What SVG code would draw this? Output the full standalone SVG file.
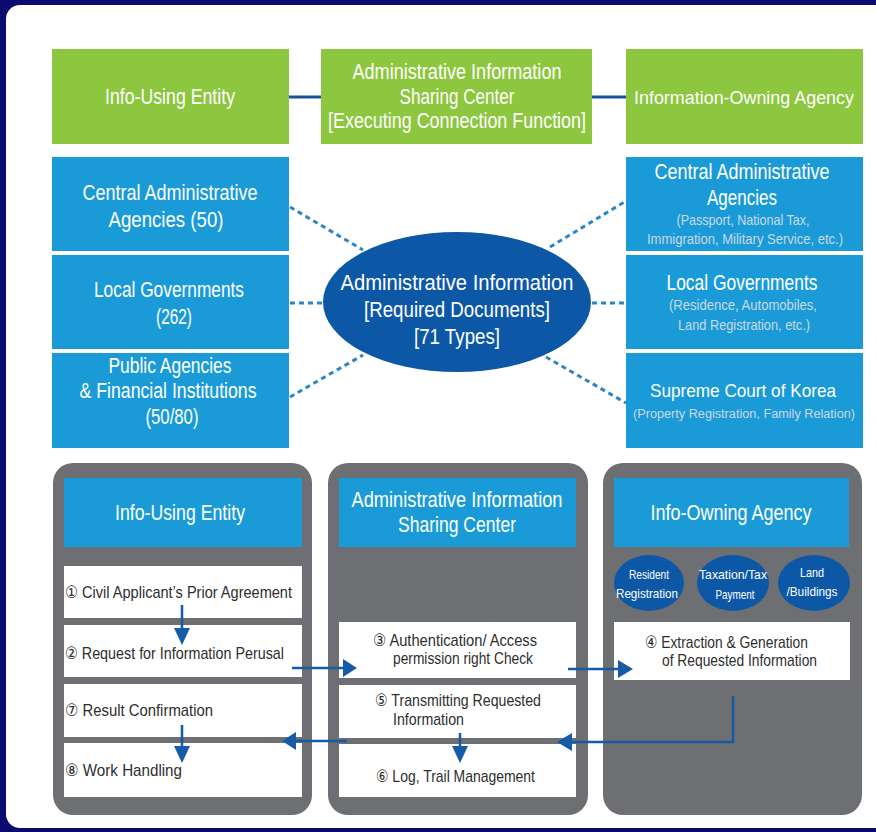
<svg xmlns="http://www.w3.org/2000/svg" width="876" height="832" viewBox="0 0 876 832">
<defs>
<style>
text{font-family:"Liberation Sans","DejaVu Sans",sans-serif;}
.w{fill:#ffffff;text-anchor:middle;}
.h{font-size:21.5px;}
.s{font-size:15px;fill:#cad9e6;text-anchor:middle;}
.d{font-size:17px;fill:#2e2e2e;}
.e{font-size:13px;fill:#ffffff;text-anchor:middle;}
.green{fill:#8dc63f;}
.blue{fill:#1a9bd7;}
.panel{fill:#6d6f72;}
.card{fill:#ffffff;}
.dot{stroke:#2b86c5;stroke-width:3;stroke-dasharray:5 4;fill:none;}
.arr{stroke:#165ba8;stroke-width:2.5;fill:none;}
.ah{fill:#165ba8;}
</style>
</defs>
<rect x="0" y="0" width="876" height="832" fill="#0b0a6e"/>
<rect x="6" y="5" width="900" height="823" rx="14" fill="#ffffff"/>

<g id="connectors">
<line x1="289" y1="97" x2="321" y2="97" stroke="#1a4f9c" stroke-width="3"/>
<line x1="592" y1="97" x2="626" y2="97" stroke="#1a4f9c" stroke-width="3"/>
<line class="dot" x1="290" y1="207" x2="363" y2="250"/>
<line class="dot" x1="290" y1="303" x2="323" y2="303"/>
<line class="dot" x1="290" y1="397" x2="363" y2="355"/>
<line class="dot" x1="550" y1="247" x2="626" y2="201"/>
<line class="dot" x1="592" y1="303" x2="626" y2="303"/>
<line class="dot" x1="546" y1="357" x2="626" y2="403"/>
</g>

<g id="g-using">
<rect class="green" x="52" y="49" width="237" height="95"/>
<text class="w h" x="170" y="104" textLength="130" lengthAdjust="spacingAndGlyphs">Info-Using Entity</text>
</g>
<g id="g-center">
<rect class="green" x="321" y="49" width="271" height="95"/>
<text class="w h" x="457" y="79" textLength="209" lengthAdjust="spacingAndGlyphs">Administrative Information</text>
<text class="w h" x="457" y="104" textLength="115" lengthAdjust="spacingAndGlyphs">Sharing Center</text>
<text class="w h" x="457" y="128" textLength="258" lengthAdjust="spacingAndGlyphs">[Executing Connection Function]</text>
</g>
<g id="g-owning">
<rect class="green" x="626" y="49" width="237" height="95"/>
<text class="w" x="744" y="104" font-size="18" textLength="220" lengthAdjust="spacingAndGlyphs">Information-Owning Agency</text>
</g>

<g id="l-central">
<rect class="blue" x="52" y="157" width="237" height="94"/>
<text class="w h" x="170" y="200" textLength="175" lengthAdjust="spacingAndGlyphs">Central Administrative</text>
<text class="w h" x="166" y="227" textLength="115" lengthAdjust="spacingAndGlyphs">Agencies (50)</text>
</g>
<g id="l-local">
<rect class="blue" x="52" y="255" width="237" height="94"/>
<text class="w h" x="169" y="297" textLength="150" lengthAdjust="spacingAndGlyphs">Local Governments</text>
<text class="w h" x="174" y="324" textLength="36" lengthAdjust="spacingAndGlyphs">(262)</text>
</g>
<g id="l-public">
<rect class="blue" x="52" y="353" width="237" height="95"/>
<text class="w h" x="170" y="373" textLength="123" lengthAdjust="spacingAndGlyphs">Public Agencies</text>
<text class="w h" x="168" y="398" textLength="177" lengthAdjust="spacingAndGlyphs">&amp; Financial Institutions</text>
<text class="w h" x="172" y="424" textLength="53" lengthAdjust="spacingAndGlyphs">(50/80)</text>
</g>

<g id="ellipse-info">
<ellipse cx="457" cy="302" rx="134" ry="70" fill="#0d58a6"/>
<text class="w h" x="457" y="290" textLength="233" lengthAdjust="spacingAndGlyphs">Administrative Information</text>
<text class="w h" x="457" y="317" textLength="186" lengthAdjust="spacingAndGlyphs">[Required Documents]</text>
<text class="w h" x="457" y="344" textLength="86" lengthAdjust="spacingAndGlyphs">[71 Types]</text>
</g>

<g id="r-central">
<rect class="blue" x="626" y="157" width="237" height="94"/>
<text class="w h" x="742" y="179" textLength="175" lengthAdjust="spacingAndGlyphs">Central Administrative</text>
<text class="w h" x="742" y="205" textLength="70" lengthAdjust="spacingAndGlyphs">Agencies</text>
<text class="s" x="743" y="225" textLength="133" lengthAdjust="spacingAndGlyphs">(Passport, National Tax,</text>
<text class="s" x="745" y="244" textLength="196" lengthAdjust="spacingAndGlyphs">Immigration, Military Service, etc.)</text>
</g>
<g id="r-local">
<rect class="blue" x="626" y="255" width="237" height="94"/>
<text class="w h" x="742" y="290" textLength="151" lengthAdjust="spacingAndGlyphs">Local Governments</text>
<text class="s" x="743" y="310" textLength="148" lengthAdjust="spacingAndGlyphs">(Residence, Automobiles,</text>
<text class="s" x="744" y="330" textLength="132" lengthAdjust="spacingAndGlyphs">Land Registration, etc.)</text>
</g>
<g id="r-court">
<rect class="blue" x="626" y="353" width="237" height="95"/>
<text class="w" x="743" y="397" font-size="19" textLength="186" lengthAdjust="spacingAndGlyphs">Supreme Court of Korea</text>
<text class="s" x="744" y="418" font-size="12.5" textLength="222" lengthAdjust="spacingAndGlyphs" style="font-size:12.5px">(Property Registration, Family Relation)</text>
</g>

<g id="p-using">
<rect class="panel" x="53" y="463" width="259" height="352" rx="20"/>
<rect class="blue" x="64" y="478" width="238" height="69"/>
<text class="w h" x="180" y="520" textLength="130" lengthAdjust="spacingAndGlyphs">Info-Using Entity</text>
</g>
<g id="s1">
<rect class="card" x="64" y="566" width="238" height="52"/>
<text class="d" x="65" y="598" textLength="227" lengthAdjust="spacingAndGlyphs">① Civil Applicant’s Prior Agreement</text>
</g>
<g id="s2">
<rect class="card" x="64" y="625" width="238" height="52"/>
<text class="d" x="65" y="659" textLength="219" lengthAdjust="spacingAndGlyphs">② Request for Information Perusal</text>
</g>
<g id="s7">
<rect class="card" x="64" y="684" width="238" height="53"/>
<text class="d" x="65" y="716" textLength="148" lengthAdjust="spacingAndGlyphs">⑦ Result Confirmation</text>
</g>
<g id="s8">
<rect class="card" x="64" y="743" width="238" height="54"/>
<text class="d" x="65" y="776" textLength="117" lengthAdjust="spacingAndGlyphs">⑧ Work Handling</text>
</g>

<g id="p-center">
<rect class="panel" x="328" y="463" width="260" height="352" rx="20"/>
<rect class="blue" x="339" y="478" width="237" height="69"/>
<text class="w h" x="457" y="507" textLength="211" lengthAdjust="spacingAndGlyphs">Administrative Information</text>
<text class="w h" x="457" y="532" textLength="118" lengthAdjust="spacingAndGlyphs">Sharing Center</text>
</g>
<g id="s3">
<rect class="card" x="339" y="622" width="237" height="56"/>
<text class="d" x="373" y="646" textLength="164" lengthAdjust="spacingAndGlyphs">③ Authentication/ Access</text>
<text class="d" x="393" y="664" textLength="140" lengthAdjust="spacingAndGlyphs">permission right Check</text>
</g>
<g id="s5">
<rect class="card" x="339" y="685" width="237" height="53"/>
<text class="d" x="375" y="706" textLength="166" lengthAdjust="spacingAndGlyphs">⑤ Transmitting Requested</text>
<text class="d" x="393" y="725" textLength="71" lengthAdjust="spacingAndGlyphs">Information</text>
</g>
<g id="s6">
<rect class="card" x="339" y="744" width="237" height="53"/>
<text class="d" x="376" y="782" textLength="159" lengthAdjust="spacingAndGlyphs">⑥ Log, Trail Management</text>
</g>

<g id="p-owning">
<rect class="panel" x="603" y="463" width="259" height="352" rx="20"/>
<rect class="blue" x="614" y="478" width="235" height="69"/>
<text class="w h" x="731" y="520" textLength="161" lengthAdjust="spacingAndGlyphs">Info-Owning Agency</text>
</g>
<g id="o-resident">
<ellipse cx="649" cy="583" rx="35" ry="28" fill="#0d58a6"/>
<text class="e" x="649" y="579" textLength="40" lengthAdjust="spacingAndGlyphs">Resident</text>
<text class="e" x="647" y="598" textLength="62" lengthAdjust="spacingAndGlyphs">Registration</text>
</g>
<g id="o-tax">
<ellipse cx="733" cy="583" rx="36" ry="28" fill="#0d58a6"/>
<text class="e" x="733" y="579" textLength="68" lengthAdjust="spacingAndGlyphs">Taxation/Tax</text>
<text class="e" x="735" y="599" textLength="39" lengthAdjust="spacingAndGlyphs">Payment</text>
</g>
<g id="o-land">
<ellipse cx="814" cy="583" rx="36" ry="28" fill="#0d58a6"/>
<text class="e" x="812" y="577" textLength="24" lengthAdjust="spacingAndGlyphs">Land</text>
<text class="e" x="812" y="596" textLength="51" lengthAdjust="spacingAndGlyphs">/Buildings</text>
</g>
<g id="s4">
<rect class="card" x="614" y="622" width="236" height="58"/>
<text class="d" x="645" y="648" textLength="163" lengthAdjust="spacingAndGlyphs">④ Extraction &amp; Generation</text>
<text class="d" x="662" y="666" textLength="155" lengthAdjust="spacingAndGlyphs">of Requested Information</text>
</g>

<g id="flow-connectors">
<line class="arr" x1="182" y1="605" x2="182" y2="630"/>
<polygon class="ah" points="174,628 190,628 182,645"/>
<line class="arr" x1="182" y1="725" x2="182" y2="748"/>
<polygon class="ah" points="174,746 190,746 182,763"/>
<line class="arr" x1="292" y1="668" x2="345" y2="668"/>
<polygon class="ah" points="343,659 343,677 357,668"/>
<line class="arr" x1="568" y1="669" x2="620" y2="669"/>
<polygon class="ah" points="618,660 618,678 633,669"/>
<polyline class="arr" points="733,696 733,742 570,742"/>
<polygon class="ah" points="572,733 572,751 557,742"/>
<line class="arr" x1="347" y1="741" x2="294" y2="741"/>
<polygon class="ah" points="296,732 296,750 282,741"/>
<line class="arr" x1="460" y1="733" x2="460" y2="748"/>
<polygon class="ah" points="452,746 468,746 460,763"/>
</g>
</svg>
